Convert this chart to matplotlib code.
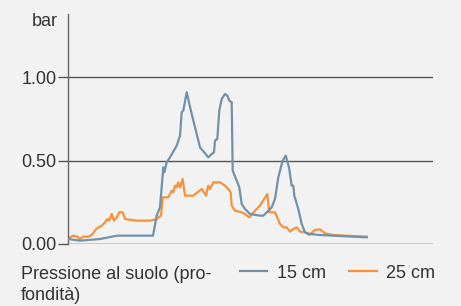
import matplotlib.pyplot as plt

plt.rcParams['font.family'] = ['Liberation Sans', 'DejaVu Sans']

# posizione lungo il percorso (unità arbitrarie) e pressione in bar
x_15 = [0, 12, 32, 49, 85, 88.7, 92, 95.3, 96.3, 98.7, 102, 108.7, 112, 113.7, 115.3,
        118.7, 123.7, 132, 140.3, 143.7, 146, 147, 149.3, 151.3, 153.7, 157, 159.3,
        161.3, 163.7, 164.7, 168.7, 171.3, 173.7, 177, 182, 192, 195.3, 198.7, 203.7,
        207, 210.3, 214.7, 217.7, 221, 223.7, 225.3, 226.3, 230.3, 233.7, 237, 242,
        252, 298.7]
p_15 = [0.03, 0.02, 0.03, 0.05, 0.05, 0.17, 0.22, 0.46, 0.43, 0.49, 0.52, 0.59, 0.65,
        0.79, 0.80, 0.91, 0.78, 0.58, 0.52, 0.54, 0.55, 0.62, 0.63, 0.80, 0.87, 0.90,
        0.89, 0.86, 0.85, 0.44, 0.38, 0.34, 0.24, 0.21, 0.18, 0.17, 0.17, 0.19, 0.22,
        0.27, 0.40, 0.50, 0.53, 0.46, 0.35, 0.35, 0.29, 0.21, 0.12, 0.07, 0.06, 0.054,
        0.04]

x_25 = [0, 5.3, 9.3, 12, 15.3, 20.3, 23.7, 28.7, 33.7, 37, 39.3, 41.3, 43.7, 46, 48.7,
        51.3, 54.7, 57, 68.7, 82, 88.7, 93, 94.7, 100.3, 103.7, 105.3, 107, 108.7, 110.3,
        112, 114.7, 117, 125.3, 133.7, 138, 140.3, 142, 145.3, 152, 157, 160.3, 162.7,
        163.7, 167, 173.7, 177, 181.3, 187, 192, 199.3, 201.3, 207, 212, 215.3, 218.7,
        222, 225.3, 228.7, 232, 237, 241.3, 247, 252, 257, 265.3, 298.7]
p_25 = [0.034, 0.05, 0.044, 0.03, 0.044, 0.044, 0.054, 0.094, 0.11, 0.13, 0.15, 0.14,
        0.18, 0.14, 0.16, 0.19, 0.19, 0.15, 0.14, 0.14, 0.15, 0.17, 0.28, 0.28,
        0.32, 0.31, 0.35, 0.34, 0.37, 0.34, 0.39, 0.29, 0.29, 0.33, 0.29, 0.35, 0.33,
        0.37, 0.37, 0.35, 0.33, 0.31, 0.23, 0.20, 0.19, 0.18, 0.16, 0.20, 0.23, 0.30,
        0.19, 0.19, 0.12, 0.10, 0.10, 0.074, 0.09, 0.10, 0.074, 0.07, 0.054, 0.084,
        0.088, 0.064, 0.054, 0.044]

y_ticks = [0.0, 0.5, 1.0]
y_labels = ['0.00', '0.50', '1.00']

bg = '#f2f2f2'
blue = '#7191ab'
orange = '#f7923a'
text_col = '#333333'
fs = 13

fig = plt.figure(figsize=(4.61, 3.06), dpi=100, facecolor=bg)
ax = fig.add_axes([68 / 461, 1 - 244 / 306, 365 / 461, 230 / 306], facecolor=bg)

for y in y_ticks:
    ax.axhline(y, color='#555555' if y > 0 else '#222222', lw=1.0, zorder=1)

ax.plot(x_15, p_15, color=blue, lw=1.6, label='15 cm', zorder=3)
ax.plot(x_25, p_25, color=orange, lw=1.6, label='25 cm', zorder=2)

ax.set_xlim(0, 365)
ax.set_ylim(0, 230 / 166.7)
ax.set_xticks([])
ax.set_yticks(y_ticks)
ax.set_yticklabels(y_labels)
ax.tick_params(axis='y', length=7, width=1.0, color='#555555', pad=1.2,
               labelsize=fs, labelcolor=text_col)
for s in ['top', 'right', 'bottom']:
    ax.spines[s].set_visible(False)
ax.spines['left'].set_color('#666666')
ax.spines['left'].set_linewidth(1.0)

fig.text(58 / 461, 1 - 22 / 306, 'bar', ha='right', va='center',
         fontsize=fs, color=text_col)

fig.text(21 / 461, 1 - 285 / 306, 'Pressione al suolo (pro-\nfondità)', ha='left',
         va='center', fontsize=fs, color=text_col, linespacing=1.3)

fig.legend(loc='center left', bbox_to_anchor=(240 / 461, 1 - 273 / 306), ncol=2,
           frameon=False, fontsize=fs, handlelength=1.5, handletextpad=0.55,
           columnspacing=1.3, borderpad=0, borderaxespad=0, labelcolor=text_col)

fig.savefig('out.png', dpi=100, facecolor=bg)
